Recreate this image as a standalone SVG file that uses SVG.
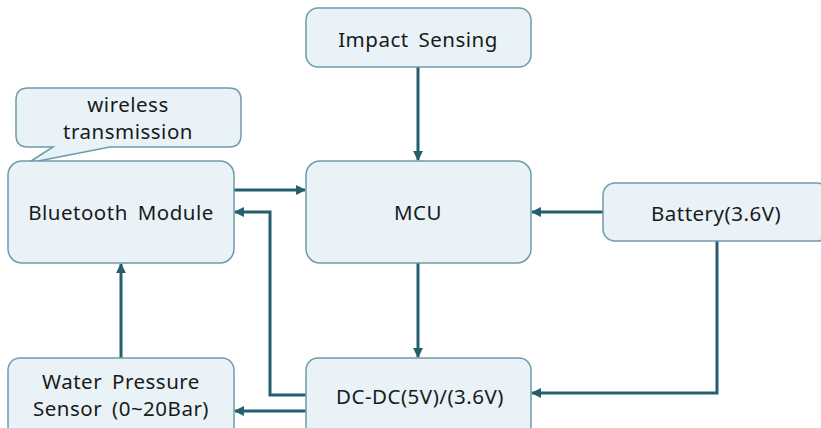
<svg xmlns="http://www.w3.org/2000/svg" width="821" height="428" viewBox="0 0 821 428">
<defs>
<style>
.box{fill:#E8F2F7;stroke:#6E9BAA;stroke-width:1.5}
.t{font-family:"Noto Sans","Open Sans","Liberation Sans",sans-serif;font-size:20.5px;letter-spacing:0.5px;word-spacing:4px;fill:#1a1a1a;text-anchor:middle}
.c{fill:none;stroke:#255E6E;stroke-width:3}
</style>
<marker id="ah" viewBox="0 0 10 10" refX="9" refY="5" markerWidth="3.3" markerHeight="3.3" orient="auto" markerUnits="strokeWidth">
<path d="M0,0 L10,5 L0,10 z" fill="#255E6E"/>
</marker>
</defs>
<rect width="821" height="428" fill="#ffffff"/>
<g id="connectors">
<path class="c" d="M418,67 V160" marker-end="url(#ah)"/>
<path class="c" d="M234,190 H305" marker-end="url(#ah)"/>
<path class="c" d="M603,212 H532" marker-end="url(#ah)"/>
<path class="c" d="M306,395 H270 V212 H235" marker-end="url(#ah)"/>
<path class="c" d="M418,263 V357" marker-end="url(#ah)"/>
<path class="c" d="M717,241 V393 H532" marker-end="url(#ah)"/>
<path class="c" d="M306,411 H235" marker-end="url(#ah)"/>
<path class="c" d="M121,358 V264" marker-end="url(#ah)"/>
</g>
<g id="callout">
<path class="box" d="M28,88 H229 Q241,88 241,100 V135 Q241,147 229,147 H110 L28,163 L53,147 H28 Q16,147 16,135 V100 Q16,88 28,88 Z"/>
<text class="t" x="128" y="112">wireless</text>
<text class="t" x="128" y="139">transmission</text>
</g>
<g id="impact">
<rect class="box" x="306" y="8" width="225" height="59" rx="12"/>
<text class="t" x="418" y="47">Impact Sensing</text>
</g>
<g id="bluetooth">
<rect class="box" x="8" y="161" width="226" height="102" rx="14"/>
<text class="t" x="121" y="220">Bluetooth Module</text>
</g>
<g id="mcu">
<rect class="box" x="306" y="161" width="225" height="102" rx="14"/>
<text class="t" x="418" y="220">MCU</text>
</g>
<g id="battery">
<rect class="box" x="603" y="183" width="226" height="58" rx="12"/>
<text class="t" x="716" y="221">Battery(3.6V)</text>
</g>
<g id="water">
<rect class="box" x="8" y="358" width="226" height="80" rx="12"/>
<text class="t" x="121" y="389">Water Pressure</text>
<text class="t" x="121" y="416">Sensor (0~20Bar)</text>
</g>
<g id="dcdc">
<rect class="box" x="306" y="358" width="225" height="80" rx="12"/>
<text class="t" x="420" y="404">DC-DC(5V)/(3.6V)</text>
</g>
</svg>
